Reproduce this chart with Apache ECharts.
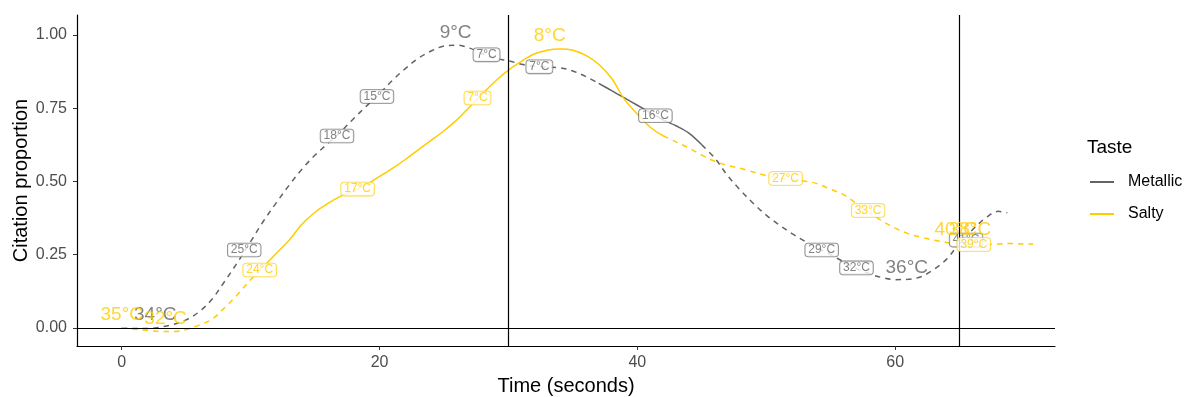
<!DOCTYPE html>
<html>
<head>
<meta charset="utf-8">
<script src="https://cdn.jsdelivr.net/npm/echarts@6/dist/echarts.min.js"></script>
<style>
  html, body { margin: 0; padding: 0; background: #fff; }
  #chart { width: 1187px; height: 397px; }
</style>
</head>
<body>
<div id="chart"></div>
<script>
// Temporal citation curves for two tastes
const metallicTime = [0,1,2,3,4,5,6,7,8,9,10,11,12,13,14,15,16,17,18,19,20,21,22,23,24,25,26,27,28,29,30,31,32,33,34,35,36,37,38,39,40,41,42,43,44,45,46,47,48,49,50,51,52,53,54,55,56,57,58,59,60,61,62,63,64,65,66,67,68,68.7];
const metallicProp = [0.000,-0.002,-0.002,0.003,0.012,0.028,0.055,0.098,0.160,0.225,0.295,0.365,0.428,0.488,0.543,0.590,0.630,0.670,0.715,0.758,0.800,0.845,0.885,0.920,0.945,0.962,0.965,0.955,0.935,0.920,0.912,0.900,0.893,0.890,0.888,0.877,0.858,0.835,0.810,0.785,0.760,0.735,0.710,0.690,0.665,0.625,0.580,0.520,0.470,0.425,0.385,0.352,0.322,0.296,0.272,0.250,0.226,0.203,0.185,0.172,0.165,0.166,0.175,0.200,0.235,0.290,0.335,0.375,0.398,0.393];

const saltyTime = [0,1,2,3,4,5,6,7,8,9,10,11,12,13,14,15,16,17,18,19,20,21,22,23,24,25,26,27,28,29,30,31,32,33,34,35,36,37,38,39,40,41,42,43,44,45,46,47,48,49,50,51,52,53,54,55,56,57,58,59,60,61,62,63,64,65,66,67,68,69,70,70.7];
const saltyProp = [0.002,-0.004,-0.008,-0.012,-0.012,-0.005,0.010,0.030,0.070,0.115,0.165,0.210,0.255,0.300,0.355,0.395,0.425,0.450,0.468,0.490,0.517,0.545,0.575,0.608,0.640,0.673,0.710,0.755,0.800,0.843,0.880,0.910,0.935,0.948,0.952,0.948,0.930,0.900,0.852,0.780,0.730,0.685,0.656,0.635,0.614,0.590,0.569,0.555,0.545,0.532,0.520,0.512,0.506,0.501,0.492,0.473,0.455,0.425,0.395,0.365,0.341,0.322,0.310,0.300,0.292,0.287,0.283,0.284,0.287,0.288,0.287,0.287];

// Line type per time span: [from, to, type]
const metallicSpans = [[0, 37, 'dashed'], [37, 45, 'solid'], [45, 68.7, 'dashed']];
const saltySpans = [[0, 11, 'dashed'], [11, 42, 'solid'], [42, 70.7, 'dashed']];

// Boxed temperature tags: [time, proportion, text]
const metallicTags = [[9.5,0.266,'25°C'],[16.7,0.655,'18°C'],[19.8,0.79,'15°C'],[28.3,0.932,'7°C'],[32.4,0.891,'7°C'],[41.4,0.724,'16°C'],[54.3,0.266,'29°C'],[57.0,0.205,'32°C'],[65.5,0.30,'41°C']];
const saltyTags = [[10.7,0.198,'24°C'],[18.3,0.474,'17°C'],[27.6,0.785,'7°C'],[51.5,0.51,'27°C'],[57.9,0.401,'33°C'],[66.1,0.285,'39°C']];

// Extremum notes: [time, proportion, text]
const metallicNotes = [[2.6,0.044,'34°C'],[25.9,1.009,'9°C'],[60.9,0.206,'36°C']];
const saltyNotes = [[0.0,0.044,'35°C'],[3.4,0.031,'32°C'],[33.2,0.998,'8°C'],[64.7,0.334,'40°C'],[65.8,0.334,'38°C']];

const xTicks = [0, 20, 40, 60];
const yTicks = [0, 0.25, 0.5, 0.75, 1];
const refTimes = [30, 65];

const GRAY = '#636363';
const GOLD = '#FFCC00';
const FONT = '"Liberation Sans", Arial, sans-serif';

function pick(t, v, a, b) {
  const out = [];
  for (let i = 0; i < t.length; i++) {
    if (t[i] >= a - 1e-9 && t[i] <= b + 1e-9) out.push([t[i], v[i]]);
  }
  return out;
}

function curveSeries(name, color, t, v, spans) {
  return spans.map(s => ({
    type: 'line',
    name: name,
    data: pick(t, v, s[0], s[1]),
    smooth: 0.35,
    symbol: 'none',
    showSymbol: false,
    silent: true,
    z: 2,
    color: color,
    itemStyle: { color: color },
    lineStyle: { color: color, width: 1.5, type: s[2] === 'dashed' ? [5.5, 5] : 'solid' }
  }));
}

function tagSeries(color, tags, z) {
  return {
    type: 'scatter',
    data: tags.map(d => [d[0], d[1], d[2]]),
    symbolSize: 0,
    silent: true,
    z: z,
    label: {
      show: true,
      position: 'inside',
      formatter: p => p.value[2],
      fontFamily: FONT,
      fontSize: 12,
      color: color,
      backgroundColor: '#fff',
      borderColor: color,
      borderWidth: 0.8,
      borderRadius: 3,
      padding: [1, 3, 0, 3]
    }
  };
}

function noteSeries(color, notes, z) {
  return {
    type: 'scatter',
    data: notes.map(d => [d[0], d[1], d[2]]),
    symbolSize: 0,
    silent: true,
    z: z,
    label: {
      show: true,
      position: 'inside',
      formatter: p => p.value[2],
      fontFamily: FONT,
      fontSize: 19,
      color: color
    }
  };
}

const chart = echarts.init(document.getElementById('chart'), null, { renderer: 'canvas' });

chart.setOption({
  animation: false,
  backgroundColor: '#fff',
  title: {
    text: 'Taste',
    left: 1082,
    top: 133,
    textStyle: { fontFamily: FONT, fontSize: 19, fontWeight: 'normal', color: '#000' }
  },
  legend: {
    data: ['Metallic', 'Salty'],
    orient: 'vertical',
    left: 1085,
    top: 169,
    itemWidth: 24,
    itemHeight: 2,
    itemGap: 16,
    icon: 'rect',
    selectedMode: false,
    textStyle: { fontFamily: FONT, fontSize: 16, color: '#000', padding: [0, 0, 0, 9], lineHeight: 16 }
  },
  grid: { left: 77, right: 132, top: 15, bottom: 51, containLabel: false, outerBoundsMode: 'none' },
  xAxis: {
    type: 'value',
    min: -3.47,
    max: 72.4,
    name: 'Time (seconds)',
    nameLocation: 'middle',
    nameGap: 30,
    nameMoveOverlap: false,
    nameTextStyle: { fontFamily: FONT, fontSize: 20, color: '#000' },
    splitLine: { show: false },
    axisLine: { show: true, onZero: false, lineStyle: { color: '#000', width: 1.2 } },
    axisTick: { show: true, length: 4, lineStyle: { color: '#333' }, customValues: xTicks },
    axisLabel: { fontFamily: FONT, fontSize: 16, color: '#4d4d4d', margin: 9, customValues: xTicks }
  },
  yAxis: {
    type: 'value',
    min: -0.0614,
    max: 1.068,
    name: 'Citation proportion',
    nameLocation: 'middle',
    nameGap: 46,
    nameMoveOverlap: false,
    nameTextStyle: { fontFamily: FONT, fontSize: 20, color: '#000' },
    splitLine: { show: false },
    axisLine: { show: true, onZero: false, lineStyle: { color: '#000', width: 1.2 } },
    axisTick: { show: true, length: 4, lineStyle: { color: '#333' }, customValues: yTicks },
    axisLabel: {
      fontFamily: FONT, fontSize: 16, color: '#4d4d4d', margin: 10,
      customValues: yTicks,
      formatter: v => v.toFixed(2)
    }
  },
  series: [
    ...curveSeries('Metallic', GRAY, metallicTime, metallicProp, metallicSpans),
    ...curveSeries('Salty', GOLD, saltyTime, saltyProp, saltySpans),
    tagSeries(GRAY, metallicTags, 4),
    tagSeries(GOLD, saltyTags, 5),
    noteSeries(GRAY, metallicNotes, 6),
    noteSeries(GOLD, saltyNotes, 7),
    {
      type: 'line',
      data: [],
      silent: true,
      z: 10,
      markLine: {
        silent: true,
        symbol: 'none',
        animation: false,
        label: { show: false },
        lineStyle: { color: '#000', width: 1.2, type: 'solid' },
        data: [
          ...refTimes.map(t => ({ xAxis: t })),
          { yAxis: 0 }
        ]
      }
    }
  ]
});
</script>
</body>
</html>
